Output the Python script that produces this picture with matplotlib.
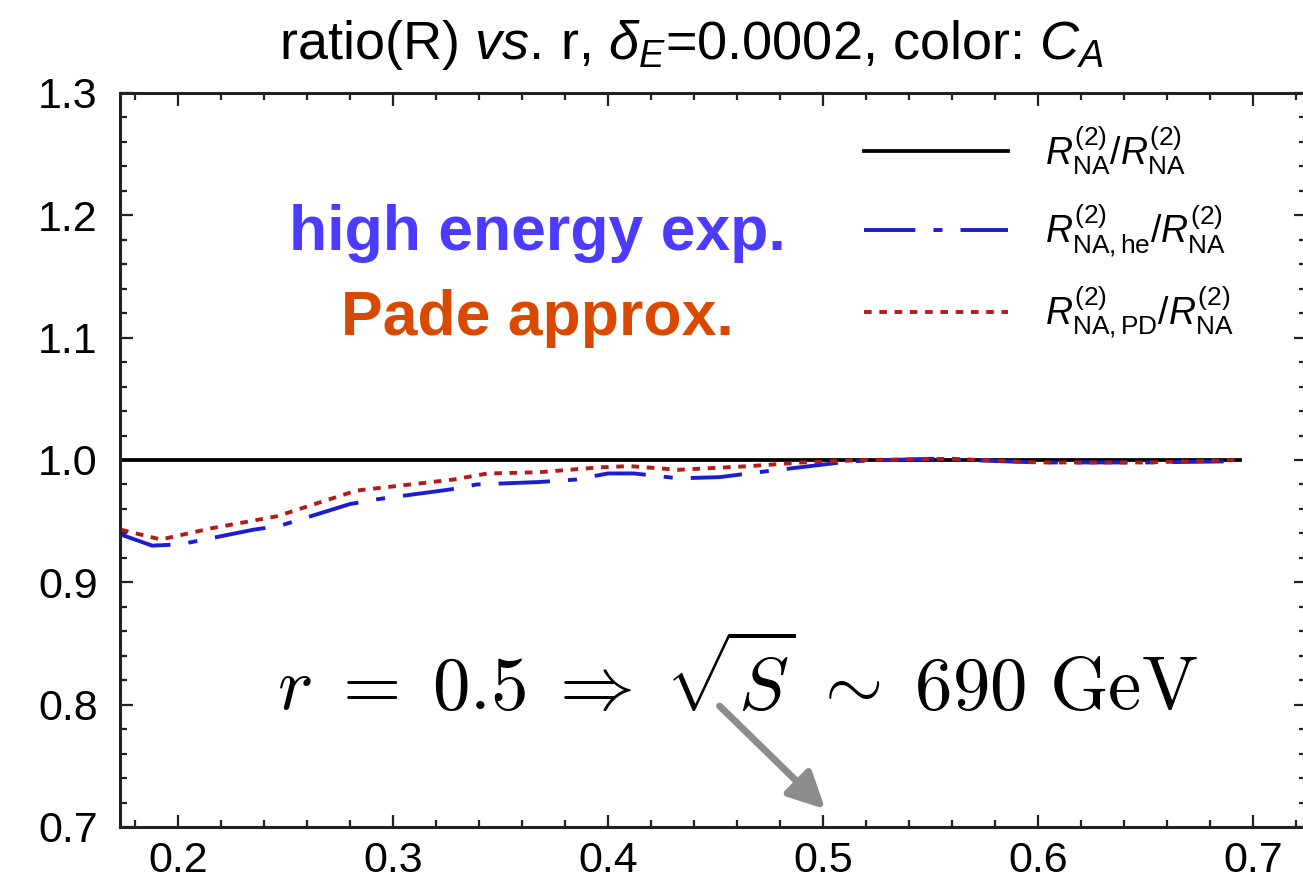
import matplotlib
matplotlib.use("Agg")
import matplotlib.pyplot as plt
from matplotlib.ticker import MultipleLocator

plt.rcParams['font.family'] = ['Liberation Sans', 'DejaVu Sans']
plt.rcParams['mathtext.fontset'] = 'custom'
plt.rcParams['mathtext.rm'] = 'Liberation Sans'
plt.rcParams['mathtext.it'] = 'Liberation Sans:italic'
plt.rcParams['mathtext.bf'] = 'Liberation Sans:bold'
plt.rcParams['lines.scale_dashes'] = False

# curves
r_na = [0.1735, 0.694]
ratio_na = [1.0, 1.0]

r_he = [0.1735, 0.188, 0.201, 0.235, 0.247, 0.280, 0.293, 0.327, 0.339, 0.368,
        0.385, 0.400, 0.412, 0.433, 0.452, 0.470, 0.494, 0.513, 0.55, 0.60, 0.65, 0.694]
ratio_he = [0.939, 0.930, 0.931, 0.943, 0.946, 0.964, 0.968, 0.976, 0.980, 0.982,
            0.984, 0.989, 0.989, 0.985, 0.986, 0.990, 0.995, 0.999, 1.001, 0.998, 0.998, 0.999]

r_pd = [0.1735, 0.192, 0.215, 0.246, 0.283, 0.328, 0.344, 0.368, 0.396, 0.41,
        0.433, 0.466, 0.49, 0.52, 0.56, 0.60, 0.65, 0.694]
ratio_pd = [0.943, 0.935, 0.944, 0.954, 0.975, 0.984, 0.989, 0.990, 0.994, 0.995,
            0.992, 0.995, 0.998, 1.0, 1.001, 0.998, 0.998, 1.0]

labels = [r"$R^{(2)}_{\mathrm{NA}}/R^{(2)}_{\mathrm{NA}}$",
          r"$R^{(2)}_{\mathrm{NA,he}}/R^{(2)}_{\mathrm{NA}}$",
          r"$R^{(2)}_{\mathrm{NA,PD}}/R^{(2)}_{\mathrm{NA}}$"]

fig = plt.figure(figsize=(13.03, 8.81), dpi=100)
ax = fig.add_axes([120/1303, 1-827/881, 1186/1303, 734/881])

ax.plot(r_na, ratio_na, color='black', lw=2.7, label=labels[0])
ax.plot(r_he, ratio_he, color='#1c1cd0', lw=2.8, dashes=[37, 13, 6.5, 13], label=labels[1])
ax.plot(r_pd, ratio_pd, color='#b31b1b', lw=2.8, dashes=[5.5, 5.5], label=labels[2])

ax.set_xlim(0.17302, 0.7247)
ax.set_ylim(0.7, 1.3)
ax.xaxis.set_major_locator(MultipleLocator(0.1))
ax.xaxis.set_minor_locator(MultipleLocator(0.02))
ax.yaxis.set_major_locator(MultipleLocator(0.1))
ax.yaxis.set_minor_locator(MultipleLocator(0.02))
ax.tick_params(which='both', direction='in', top=True, right=True, width=1.6, color='#222222')
ax.tick_params(which='major', length=9, labelsize=31)
ax.tick_params(axis='y', which='major', pad=16)
ax.tick_params(axis='x', which='major', pad=10)
ax.tick_params(which='minor', length=5)
for s in ax.spines.values():
    s.set_linewidth(2.2)
    s.set_color('#222222')

leg = ax.legend(loc='upper right', bbox_to_anchor=(0.952, 0.978), borderaxespad=0,
                frameon=False, fontsize=27, handlelength=3.85, labelspacing=0.68,
                handletextpad=1.0)

ax.text(0.367, 1.185, "high energy exp.", color='#4b3bff', fontsize=45,
        fontweight='bold', ha='center', va='center')
ax.text(0.367, 1.116, "Pade approx.", color='#d94a00', fontsize=45,
        fontweight='bold', ha='center', va='center')

ax.text(0.46, 0.8185, r"$r\;=\;0.5\;\Rightarrow\;\sqrt{S}\;\sim\;690\ \mathrm{GeV}$",
        fontsize=54, math_fontfamily='cm', ha='center', va='center')
ax.annotate("", xy=(0.502, 0.713), xytext=(0.451, 0.8005),
            arrowprops=dict(arrowstyle='-|>', color='#8c8c8c', lw=5, mutation_scale=55))

fig.text(0.531, 0.949, r"ratio(R) $\mathit{vs.}\,$r, $\delta_E$=0.0002, color: $C_A$",
         fontsize=39, ha='center', va='center')

fig.savefig("out.png", dpi=100)
